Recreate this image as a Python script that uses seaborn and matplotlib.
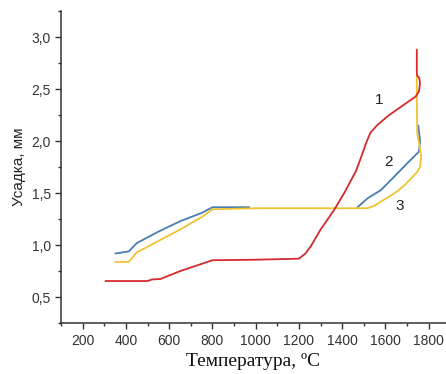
import matplotlib
matplotlib.use("Agg")
import matplotlib.pyplot as plt
from matplotlib.ticker import MultipleLocator
import seaborn as sns

# Curve 1 (red)
t1 = [305, 500, 520, 560, 650, 800, 1000, 1200, 1230, 1255, 1300, 1363, 1409, 1463,
      1490, 1510, 1530, 1560, 1610, 1671, 1740, 1755, 1760, 1756, 1747, 1745, 1745]
s1 = [0.655, 0.655, 0.67, 0.675, 0.75, 0.855, 0.86, 0.87, 0.92, 0.99, 1.15, 1.34, 1.50, 1.71,
      1.86, 1.98, 2.08, 2.15, 2.24, 2.33, 2.43, 2.48, 2.56, 2.61, 2.63, 2.65, 2.88]

# Curve 2 (blue)
t2 = [351, 413, 450, 550, 650, 750, 800, 970, None, 1471, 1517, 1579, 1641, 1702, 1755, 1760, 1752]
s2 = [0.92, 0.94, 1.02, 1.13, 1.23, 1.31, 1.365, 1.365, None, 1.365, 1.45, 1.53, 1.66, 1.79, 1.90, 2.0, 2.15]

# Curve 3 (yellow)
t3 = [351, 413, 450, 550, 650, 750, 800, 1000, 1200, 1400, 1517, 1550, 1579, 1620, 1656, 1690, 1718,
      1745, 1760, 1765, 1758, 1747, 1745, 1745]
s3 = [0.837, 0.84, 0.93, 1.04, 1.15, 1.27, 1.345, 1.355, 1.355, 1.355, 1.355, 1.38, 1.42, 1.47, 1.52, 1.58, 1.64,
      1.70, 1.75, 1.85, 1.95, 2.08, 2.40, 2.64]

labels = ["1", "2", "3"]
label_x = [1571, 1614, 1667]
label_y = [2.40, 1.80, 1.38]

x_ticks = [200, 400, 600, 800, 1000, 1200, 1400, 1600, 1800]
y_ticks = [0.5, 1.0, 1.5, 2.0, 2.5, 3.0]
y_tick_labels = ["0,5", "1,0", "1,5", "2,0", "2,5", "3,0"]

sns.set_style("ticks")
plt.rcParams["font.family"] = ["Liberation Sans", "DejaVu Sans"]

fig = plt.figure(figsize=(4.46, 3.74), dpi=100)
ax = fig.add_axes([0.137, 0.136, 0.863, 0.834])

colors = ["#d42a2e", "#4a7db0", "#f1c232"]

# blue split in two pieces (hidden by yellow in the middle)
cut = t2.index(None)
sns.lineplot(x=t2[:cut], y=s2[:cut], sort=False, estimator=None, color=colors[1], lw=1.3, ax=ax)
sns.lineplot(x=t2[cut + 1:], y=s2[cut + 1:], sort=False, estimator=None, color=colors[1], lw=1.3, ax=ax)
sns.lineplot(x=t3, y=s3, sort=False, estimator=None, color=colors[2], lw=1.3, ax=ax)
sns.lineplot(x=t1, y=s1, sort=False, estimator=None, color=colors[0], lw=1.3, ax=ax)

for lab, lx, ly in zip(labels, label_x, label_y):
    ax.text(lx, ly, lab, fontsize=11, ha="center", va="center", color="#222222")

ax.set_xlim(100, 1880)
ax.set_ylim(0.25, 3.25)
ax.set_xticks(x_ticks)
ax.set_yticks(y_ticks)
ax.set_yticklabels(y_tick_labels)
ax.xaxis.set_minor_locator(MultipleLocator(100))
ax.yaxis.set_minor_locator(MultipleLocator(0.25))
ax.tick_params(axis="both", which="major", direction="out", length=4, width=1, labelsize=10, colors="#333333")
ax.tick_params(axis="both", which="minor", direction="out", length=2.5, width=1, colors="#333333")

sns.despine(ax=ax)
for sp in ["left", "bottom"]:
    ax.spines[sp].set_color("#333333")
    ax.spines[sp].set_linewidth(1.1)

ax.set_ylabel("Усадка, мм", fontsize=11, color="#222222")
ax.set_xlabel("Температура, ºC", fontsize=14, color="#111111", family=["Liberation Serif", "DejaVu Serif"])

fig.savefig("out.png", dpi=100)
